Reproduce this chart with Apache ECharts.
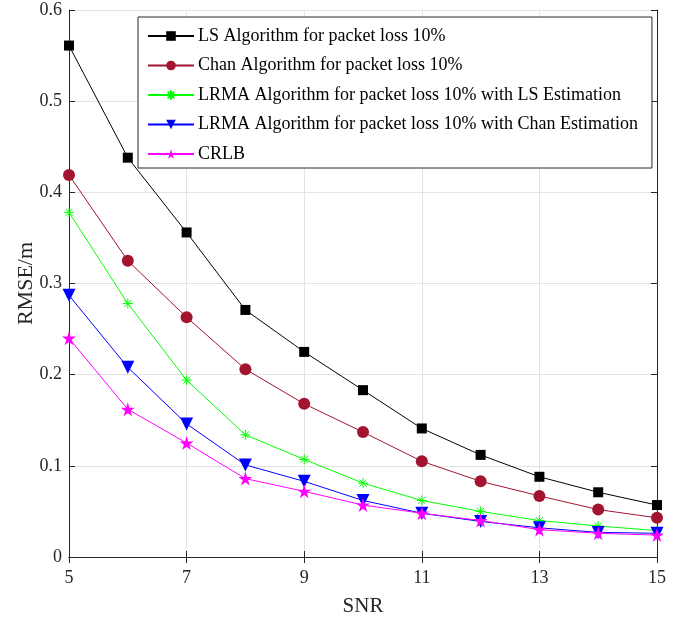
<!DOCTYPE html>
<html><head><meta charset="utf-8">
<script src="https://cdn.jsdelivr.net/npm/echarts@6/dist/echarts.min.js"></script>
<style>html,body{margin:0;padding:0;background:#fff}#c{width:689px;height:622px}</style>
</head><body><div id="c"></div>
<script>
const snr = [5,6,7,8,9,10,11,12,13,14,15];
const lsAlg = [0.561,0.438,0.356,0.271,0.225,0.183,0.141,0.112,0.088,0.071,0.057];
const chanAlg = [0.419,0.325,0.263,0.206,0.168,0.137,0.105,0.083,0.067,0.052,0.043];
const lrmaLs = [0.378,0.278,0.194,0.134,0.107,0.081,0.062,0.050,0.040,0.034,0.029];
const lrmaChan = [0.287,0.208,0.146,0.101,0.083,0.062,0.048,0.039,0.032,0.027,0.026];
const crlb = [0.240,0.162,0.125,0.086,0.072,0.057,0.048,0.040,0.030,0.026,0.024];
const names = ['LS Algorithm for packet loss 10%','Chan Algorithm for packet loss 10%','LRMA Algorithm for packet loss 10% with LS Estimation','LRMA Algorithm for packet loss 10% with Chan Estimation','CRLB'];

const star = 'path://M50 0 L61.17 34.63 L97.55 34.55 L68.07 55.87 L79.39 90.45 L50 69 L20.61 90.45 L31.93 55.87 L2.45 34.55 L38.83 34.63 Z';
const aster = 'path://M50 0 L50 100 M0 50 L100 50 M15 15 L85 85 M85 15 L15 85';
const font = 'Liberation Serif';
const pair = a => a.map((v,i)=>[snr[i],v]);

function ser(name, data, color, symbol, size, extra){
  return Object.assign({
    name, type:'line', data:pair(data), symbol, symbolSize:size,
    lineStyle:{color, width:1}, itemStyle:{color, borderColor:color, borderWidth:0},
    emphasis:{disabled:true}, animation:false, z:3
  }, extra||{});
}
const axisCol = '#262626';
const chart = echarts.init(document.getElementById('c'));
chart.setOption({
  animation:false,
  grid:{left:69, right:32, top:10, bottom:65},
  legend:{
    orient:'vertical', left:138, top:17, padding:[10,14,5,9],
    backgroundColor:'#fff', borderColor:axisCol, borderWidth:1,
    itemWidth:46, itemHeight:12, itemGap:11.5,
    textStyle:{fontFamily:font, fontSize:18, color:'#000', padding:[0,0,0,-1]},
    data:names
  },
  xAxis:[{
    type:'value', min:5, max:15, interval:2,
    name:'SNR', nameLocation:'middle', nameGap:39, nameMoveOverlap:false,
    nameTextStyle:{fontFamily:font, fontSize:21, color:axisCol},
    axisLine:{lineStyle:{color:axisCol}}, axisTick:{inside:true, length:6, lineStyle:{color:axisCol}},
    axisLabel:{fontFamily:font, fontSize:18, color:axisCol, margin:12},
    splitLine:{show:true, lineStyle:{color:'#e3e3e3'}}
  },{
    type:'value', min:5, max:15, interval:2, position:'top',
    axisLine:{lineStyle:{color:axisCol}}, axisTick:{inside:true, length:6, lineStyle:{color:axisCol}},
    axisLabel:{show:false}, splitLine:{show:false}
  }],
  yAxis:[{
    type:'value', min:0, max:0.6, interval:0.1,
    name:'RMSE/m', nameLocation:'middle', nameGap:32, nameMoveOverlap:false,
    nameTextStyle:{fontFamily:font, fontSize:22, color:axisCol},
    axisLine:{show:true, lineStyle:{color:axisCol}}, axisTick:{show:true, inside:true, length:6, lineStyle:{color:axisCol}},
    axisLabel:{fontFamily:font, fontSize:18, color:axisCol, margin:7},
    splitLine:{show:true, lineStyle:{color:'#e3e3e3'}}
  },{
    type:'value', min:0, max:0.6, interval:0.1, position:'right',
    axisLine:{show:true, lineStyle:{color:axisCol}}, axisTick:{show:true, inside:true, length:6, lineStyle:{color:axisCol}},
    axisLabel:{show:false}, splitLine:{show:false}
  }],
  series:[
    ser(names[0], lsAlg, '#000000', 'rect', 10),
    ser(names[1], chanAlg, '#a2142f', 'circle', 12),
    ser(names[2], lrmaLs, '#00ff00', aster, 10, {itemStyle:{color:'#00ff00', borderColor:'#00ff00', borderWidth:1}}),
    ser(names[3], lrmaChan, '#0000ff', 'triangle', 13, {symbolRotate:180}),
    ser(names[4], crlb, '#ff00ff', star, 14)
  ]
});
</script></body></html>
